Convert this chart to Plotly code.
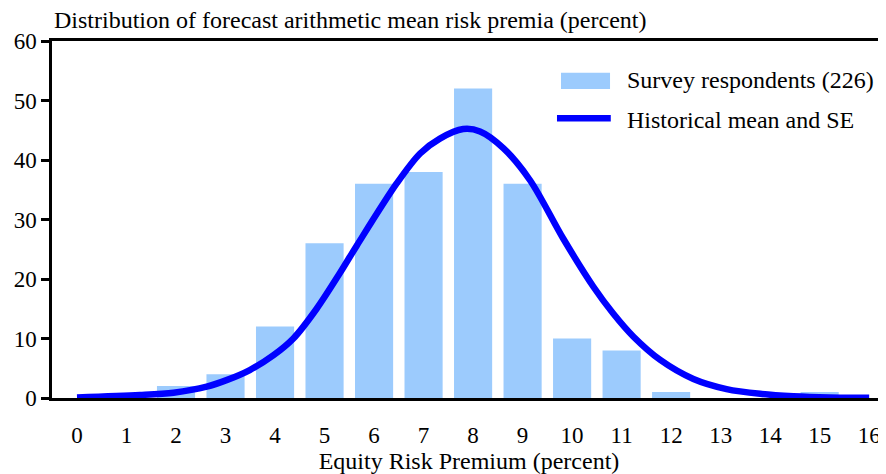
import plotly.graph_objects as go

# Data
premium = list(range(0, 17))
respondents = [0, 0, 2, 4, 12, 26, 36, 38, 52, 36, 10, 8, 1, 0, 0, 1, 0]

curve_x = [0.0, 1.27, 1.95, 2.62, 3.02, 3.49, 3.97, 4.37, 4.84, 5.31, 5.65, 6.46, 6.93,
           7.33, 7.80, 8.14, 8.61, 9.15, 9.82, 10.43, 10.83, 11.24, 11.78, 12.45, 13.12,
           13.80, 14.47, 15.2, 16.0]
curve_y = [0.1, 0.5, 0.9, 1.9, 3.0, 4.7, 7.2, 10.0, 15.0, 21.0, 25.6, 36.1, 41.1,
           43.6, 45.2, 44.8, 42.0, 36.6, 26.8, 18.7, 14.2, 10.3, 6.4, 3.2, 1.5,
           0.7, 0.3, 0.1, 0.05]

y_ticks = [0, 10, 20, 30, 40, 50, 60]

bar_name = "Survey respondents (226)"
line_name = "Historical mean and SE"
title_text = "Distribution of forecast arithmetic mean risk premia (percent)"
x_title = "Equity Risk Premium (percent)"

FONT = "Liberation Serif"
BAR_COLOR = "#9ccbfd"
LINE_COLOR = "#0000ff"

# the page body has an 8px margin, so the figure is sized/offset to compensate
fig = go.Figure()
fig.add_trace(go.Bar(
    x=premium, y=respondents, name=bar_name,
    marker=dict(color=BAR_COLOR, line=dict(width=0)), width=0.77,
))
fig.add_trace(go.Scatter(
    x=curve_x, y=curve_y, name=line_name, mode="lines",
    line=dict(color=LINE_COLOR, width=6.5, shape="spline", smoothing=0.9),
))

# legend drawn as decoration (paper coordinates)
shapes = [
    dict(type="rect", xref="paper", yref="paper", x0=0.6103, x1=0.6691,
         y0=0.8655, y1=0.9112, fillcolor=BAR_COLOR, line=dict(width=0)),
    dict(type="line", xref="paper", yref="paper", x0=0.6055, x1=0.6700,
         y0=0.7835, y1=0.7835, line=dict(color=LINE_COLOR, width=6.5)),
]

annotations = [
    dict(text=title_text, xref="paper", yref="paper", x=0.0, y=1.0,
         xanchor="left", yanchor="bottom", yshift=6, showarrow=False,
         font=dict(size=24)),
    dict(text=bar_name, xref="paper", yref="paper", x=0.6870, y=0.8908,
         xanchor="left", yanchor="middle", showarrow=False, font=dict(size=24)),
    dict(text=line_name, xref="paper", yref="paper", x=0.6870, y=0.7788,
         xanchor="left", yanchor="middle", showarrow=False, font=dict(size=24)),
]

fig.update_layout(
    width=878, height=466,
    margin=dict(l=44, r=0, t=33, b=76),
    plot_bgcolor="white", paper_bgcolor="white",
    font=dict(family=FONT, size=23, color="black"),
    showlegend=False,
    xaxis=dict(range=[-0.505, 16.34], tickmode="array", tickvals=premium,
               ticktext=[str(p) for p in premium], showline=True, linecolor="black",
               linewidth=2.5, mirror=True, ticks="", showgrid=False, zeroline=False,
               ticklabelstandoff=15, automargin=False, tickfont=dict(size=23),
               title=dict(text=x_title, standoff=2, font=dict(size=24))),
    yaxis=dict(range=[0, 60], tickvals=y_ticks, showline=True, linecolor="black",
               linewidth=2.5, ticks="outside", ticklen=8, tickwidth=2.5,
               tickcolor="black", showgrid=False, zeroline=False, automargin=False,
               tickfont=dict(size=23)),
    shapes=shapes,
    annotations=annotations,
)

fig.write_html("out.html")
